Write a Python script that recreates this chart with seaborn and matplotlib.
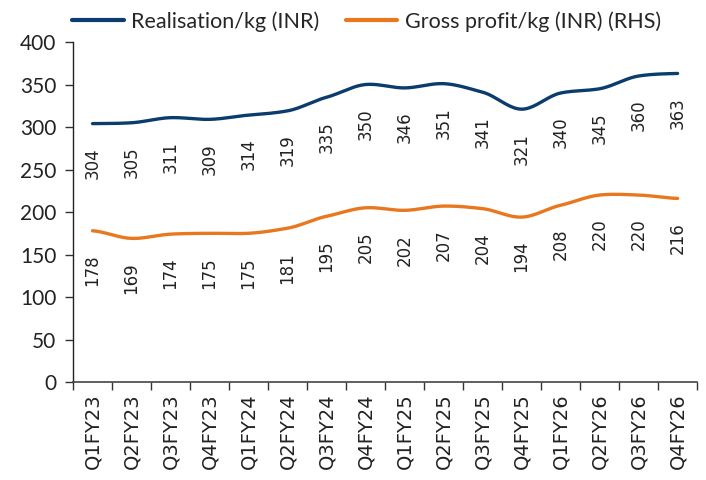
import numpy as np
import pandas as pd
import matplotlib
matplotlib.use("Agg")
import matplotlib.pyplot as plt
import seaborn as sns

quarters = ["Q1FY23", "Q2FY23", "Q3FY23", "Q4FY23", "Q1FY24", "Q2FY24", "Q3FY24", "Q4FY24",
            "Q1FY25", "Q2FY25", "Q3FY25", "Q4FY25", "Q1FY26", "Q2FY26", "Q3FY26", "Q4FY26"]
realisation = [304, 305, 311, 309, 314, 319, 335, 350, 346, 351, 341, 321, 340, 345, 360, 363]
gross_profit = [178, 169, 174, 175, 175, 181, 195, 205, 202, 207, 204, 194, 208, 220, 220, 216]

NAVY = "#0b3c6e"
ORANGE = "#e8771e"

sns.set_theme(style="white")
plt.rcParams["font.family"] = ["DejaVu Sans"]


def smooth(y, n=20):
    """Catmull-Rom rendering of the polyline through the data points."""
    y = np.asarray(y, dtype=float)
    x = np.arange(len(y), dtype=float)
    yp = np.concatenate([[y[0]], y, [y[-1]]])
    xs, ys = [], []
    for i in range(len(y) - 1):
        p0, p1, p2, p3 = yp[i], yp[i + 1], yp[i + 2], yp[i + 3]
        t = np.linspace(0, 1, n, endpoint=False)
        m1 = (p2 - p0) / 2 * 0.8
        m2 = (p3 - p1) / 2 * 0.8
        h00 = 2 * t**3 - 3 * t**2 + 1
        h10 = t**3 - 2 * t**2 + t
        h01 = -2 * t**3 + 3 * t**2
        h11 = t**3 - t**2
        ys.append(h00 * p1 + h10 * m1 + h01 * p2 + h11 * m2)
        xs.append(x[i] + t)
    xs.append([x[-1]])
    ys.append([y[-1]])
    return np.concatenate(xs), np.concatenate(ys)


fig = plt.figure(figsize=(7.06, 4.8), dpi=100)
ax = fig.add_axes([0.1034, 0.204, 0.884, 0.7085])

series = [("Realisation/kg (INR)", realisation, NAVY),
          ("Gross profit/kg (INR) (RHS)", gross_profit, ORANGE)]
for name, vals, col in series:
    xs, ys = smooth(vals)
    df = pd.DataFrame({"x": xs, "y": ys})
    sns.lineplot(data=df, x="x", y="y", ax=ax, color=col, linewidth=2.4,
                 sort=False, estimator=None, label=name)
    for i, v in enumerate(vals):
        ax.annotate(str(v), (i, v), xytext=(0, -17), textcoords="offset points",
                    rotation=90, ha="center", va="top", fontsize=12,
                    color="#222222", family="DejaVu Sans")

ax.set_xlim(-0.5, len(quarters) - 0.5)
ax.set_ylim(0, 400)
ax.set_yticks(np.arange(0, 401, 50))
ax.set_yticklabels([str(v) for v in range(0, 401, 50)], family="Lato", fontsize=15, color="#222222")
ax.set_xticks(range(len(quarters)))
ax.set_xticklabels(quarters, rotation=90, fontsize=14, color="#222222", family="DejaVu Sans")
ax.set_xticks(np.arange(-0.5, len(quarters), 1), minor=True)
ax.tick_params(axis="x", which="major", length=0, pad=8)
ax.tick_params(axis="x", which="minor", length=6, width=1, color="#333333", direction="out", bottom=True)
ax.tick_params(axis="y", which="major", length=6, width=1, color="#333333", direction="out", left=True, pad=6)
ax.set_xlabel("")
ax.set_ylabel("")
for s in ["top", "right"]:
    ax.spines[s].set_visible(False)
ax.spines["left"].set_color("#222222")
ax.spines["bottom"].set_color("#444444")
ax.spines["left"].set_linewidth(1)
ax.spines["bottom"].set_linewidth(1.2)

leg = ax.legend(loc="lower left", bbox_to_anchor=(-0.015, 1.005), ncol=2, frameon=False,
                prop={"family": "Lato", "size": 15.5}, handlelength=2.4, handletextpad=0.35,
                columnspacing=1.2, borderaxespad=0)
for line in leg.get_lines():
    line.set_linewidth(3)

fig.savefig("out.png", dpi=100)
